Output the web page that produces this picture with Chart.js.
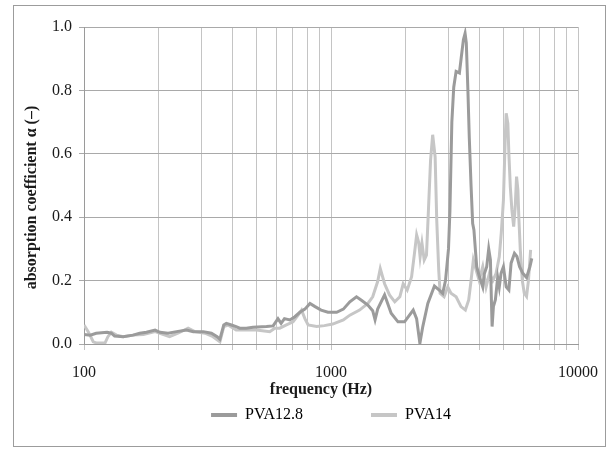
<!DOCTYPE html>
<html>
<head>
<meta charset="utf-8">
<script src="https://cdn.jsdelivr.net/npm/chart.js@4/dist/chart.umd.min.js"></script>
<style>
  html, body { margin: 0; padding: 0; background: #ffffff; }
  #c { display: block; }
</style>
</head>
<body>
<canvas id="c" width="611" height="450"></canvas>
<script>
// ---- data ----
const seriesNames = ['PVA12.8', 'PVA14'];

const freq12 = [100, 106, 112, 124, 129, 133, 144, 158, 168, 179, 194, 203, 219, 237, 260, 277, 304, 328, 346, 355,
  368, 377, 395, 413, 427, 454, 483, 548, 583, 610, 628, 648, 681, 714, 748, 784, 822, 862, 912, 972,
  1054, 1122, 1192, 1268, 1328, 1410, 1475, 1508, 1545, 1648, 1752, 1867, 1985, 2152, 2221, 2290, 2353, 2466, 2623, 2744,
  2833, 2908, 2990, 3030, 3085, 3140, 3210, 3310, 3363, 3436, 3490, 3530, 3580, 3630, 3690, 3746, 3790, 3840, 3890, 3990,
  4115, 4170, 4270, 4350, 4420, 4460, 4490, 4545, 4630, 4730, 4800, 4880, 4990, 5120, 5250, 5360, 5530, 5660, 5800, 5980,
  6190, 6390, 6500];
const alpha12 = [0.030, 0.028, 0.034, 0.037, 0.034, 0.025, 0.023, 0.028, 0.034, 0.037, 0.044, 0.037, 0.034, 0.039, 0.044, 0.039, 0.039, 0.034, 0.023, 0.015,
  0.060, 0.065, 0.060, 0.055, 0.050, 0.050, 0.053, 0.055, 0.057, 0.080, 0.065, 0.080, 0.076, 0.086, 0.100, 0.110, 0.128, 0.118, 0.107, 0.100,
  0.100, 0.110, 0.133, 0.149, 0.138, 0.123, 0.105, 0.076, 0.110, 0.155, 0.097, 0.070, 0.070, 0.107, 0.080, 0.002, 0.055, 0.128, 0.183, 0.170,
  0.160, 0.200, 0.300, 0.420, 0.700, 0.810, 0.860, 0.855, 0.900, 0.960, 0.980, 0.950, 0.810, 0.650, 0.500, 0.380, 0.360, 0.300, 0.244, 0.212,
  0.180, 0.220, 0.244, 0.300, 0.265, 0.140, 0.055, 0.118, 0.140, 0.210, 0.180, 0.223, 0.244, 0.180, 0.170, 0.255, 0.286, 0.276, 0.244, 0.223,
  0.210, 0.244, 0.270];

const freq14 = [100, 104, 109, 112.5, 121.6, 125, 129, 135.5, 144, 158, 174, 194, 203, 222, 240, 264, 281, 309, 333, 355,
  368, 383, 413, 454, 499, 565, 592, 620, 660, 702, 736, 760, 784, 808, 875, 940, 1016, 1122, 1192, 1305,
  1410, 1475, 1545, 1583, 1648, 1725, 1812, 1900, 1960, 2035, 2120, 2186, 2222, 2265, 2295, 2335, 2385, 2435, 2470, 2530,
  2580, 2640, 2680, 2730, 2765, 2870, 2970, 3060, 3210, 3360, 3500, 3610, 3690, 3770, 3870, 3980, 4115, 4245, 4380, 4520,
  4660, 4800, 4890, 4990, 5070, 5120, 5200, 5250, 5320, 5400, 5490, 5570, 5640, 5710, 5760, 5840, 5950, 6060, 6190, 6300,
  6430];
const alpha14 = [0.060, 0.039, 0.007, 0.003, 0.003, 0.023, 0.037, 0.028, 0.023, 0.028, 0.030, 0.039, 0.034, 0.023, 0.034, 0.050, 0.039, 0.034, 0.023, 0.007,
  0.055, 0.060, 0.044, 0.044, 0.044, 0.039, 0.050, 0.050, 0.060, 0.070, 0.091, 0.107, 0.080, 0.060, 0.055, 0.058, 0.063, 0.076, 0.091, 0.107,
  0.128, 0.149, 0.197, 0.238, 0.190, 0.155, 0.133, 0.149, 0.190, 0.170, 0.212, 0.297, 0.344, 0.320, 0.275, 0.318, 0.265, 0.280, 0.390, 0.580,
  0.660, 0.590, 0.390, 0.233, 0.160, 0.149, 0.180, 0.160, 0.149, 0.118, 0.107, 0.139, 0.200, 0.265, 0.233, 0.200, 0.244, 0.180, 0.223, 0.200,
  0.223, 0.275, 0.350, 0.454, 0.640, 0.728, 0.696, 0.600, 0.496, 0.423, 0.370, 0.433, 0.528, 0.486, 0.400, 0.297, 0.200, 0.160, 0.150, 0.200,
  0.297];

const xGridValues = [100, 200, 300, 400, 500, 600, 700, 800, 900, 1000, 2000, 3000, 4000, 5000, 6000, 7000, 8000, 9000, 10000];
const xTickLabels = [100, 1000, 10000];
const yTickValues = [0, 0.2, 0.4, 0.6, 0.8, 1.0];

// ---- styling ----
const SERIF = "'Liberation Serif', 'Times New Roman', serif";
const NB = '\u00a0';
Chart.defaults.font.family = SERIF;
Chart.defaults.color = '#1a1a1a';

const framePlugin = {
  id: 'frame',
  beforeDraw(chart) {
    const ctx = chart.ctx;
    ctx.save();
    ctx.fillStyle = '#ffffff';
    ctx.fillRect(0, 0, chart.width, chart.height);
    ctx.strokeStyle = '#9c9c9c';
    ctx.lineWidth = 1;
    ctx.strokeRect(13.5, 5.5, 592, 441);
    ctx.restore();
  }
};

const toPoints = (xs, ys) => xs.map((x, i) => ({ x: x, y: ys[i] }));

new Chart(document.getElementById('c'), {
  type: 'line',
  data: {
    datasets: [
      {
        label: seriesNames[0],
        data: toPoints(freq12, alpha12),
        borderColor: '#9b9b9b',
        backgroundColor: '#9b9b9b',
        borderWidth: 3,
        pointRadius: 0,
        tension: 0
      },
      {
        label: seriesNames[1],
        data: toPoints(freq14, alpha14),
        borderColor: '#c6c6c6',
        backgroundColor: '#c6c6c6',
        borderWidth: 3,
        pointRadius: 0,
        tension: 0
      }
    ]
  },
  options: {
    responsive: false,
    animation: false,
    layout: { padding: { left: 14, right: 33, top: 27, bottom: 17 } },
    plugins: {
      tooltip: { enabled: false },
      legend: {
        display: true,
        position: 'bottom',
        fullSize: false,
        labels: {
          font: { size: 16, family: SERIF },
          color: '#1a1a1a',
          boxWidth: 26,
          boxHeight: 4,
          padding: 8,
          generateLabels(chart) {
            return chart.data.datasets.map((ds, i) => ({
              text: ds.label + (i === 0 ? NB.repeat(15) : ''),
              fillStyle: ds.borderColor,
              strokeStyle: ds.borderColor,
              lineWidth: 0,
              hidden: false,
              datasetIndex: i
            }));
          }
        }
      }
    },
    scales: {
      x: {
        type: 'logarithmic',
        min: 100,
        max: 10000,
        afterBuildTicks(scale) {
          scale.ticks = xGridValues.map(v => ({ value: v }));
        },
        afterFit(scale) { scale.height = 55; },
        ticks: {
          autoSkip: false,
          maxRotation: 0,
          minRotation: 0,
          padding: 13,
          font: { size: 16, family: SERIF },
          color: '#1a1a1a',
          callback(value) {
            return xTickLabels.includes(value) ? String(value) : '';
          }
        },
        grid: { color: '#c4c4c4', lineWidth: 1, tickLength: 6, drawTicks: true },
        border: { color: '#9a9a9a', width: 1 },
        title: {
          display: true,
          text: 'frequency (Hz)' + NB.repeat(5),
          font: { size: 16, weight: 'bold', family: SERIF },
          color: '#1a1a1a',
          padding: { top: 0, bottom: 0 }
        }
      },
      y: {
        type: 'linear',
        min: 0,
        max: 1,
        afterBuildTicks(scale) {
          scale.ticks = yTickValues.map(v => ({ value: v }));
        },
        afterFit(scale) { scale.width = 70; },
        ticks: {
          padding: 7,
          font: { size: 16, family: SERIF },
          color: '#1a1a1a',
          callback(value) { return Number(value).toFixed(1); }
        },
        grid: { color: '#a9a9a9', lineWidth: 1, tickLength: 5, drawTicks: true },
        border: { color: '#9a9a9a', width: 1 },
        title: {
          display: true,
          text: 'absorption coefficient α (–)' + NB.repeat(6),
          font: { size: 16, weight: 'bold', family: SERIF },
          color: '#1a1a1a',
          padding: { top: 8, bottom: 0 }
        }
      }
    }
  },
  plugins: [framePlugin]
});
</script>
</body>
</html>
